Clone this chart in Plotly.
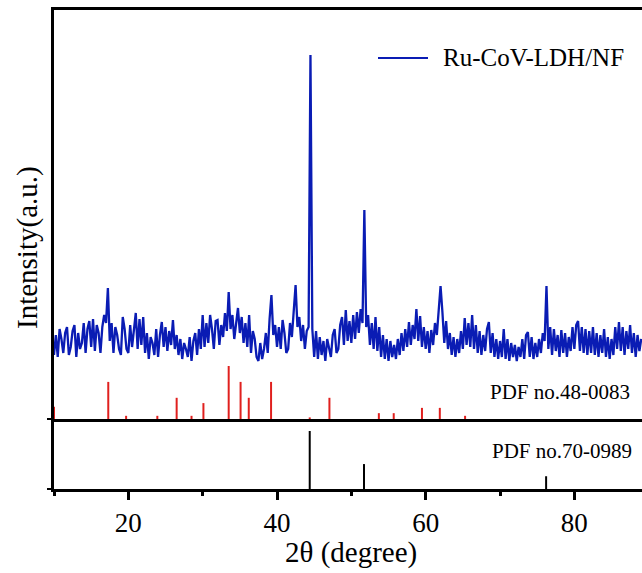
import plotly.graph_objects as go

# ---------------- data ----------------
TWO_THETA_START = 10.0
TWO_THETA_STEP = 0.25
INTENSITY = [
    64, 84, 62, 90, 80, 66, 86, 92, 64, 72, 88, 94, 62, 86, 70, 76, 96, 66, 90, 98,
    72, 100, 68, 94, 86, 66, 92, 104, 96, 131, 78, 96, 66, 92, 84, 70, 64, 102, 90, 70,
    66, 94, 72, 88, 106, 70, 100, 74, 102, 66, 86, 60, 82, 76, 64, 90, 62, 84, 97, 72,
    92, 68, 88, 74, 99, 70, 84, 64, 80, 60, 76, 70, 62, 82, 58, 78, 86, 64, 90, 70,
    104, 72, 96, 76, 104, 90, 70, 98, 99, 74, 94, 82, 106, 88, 127, 90, 104, 80, 98, 111,
    86, 102, 76, 96, 72, 104, 66, 88, 80, 62, 58, 76, 60, 70, 86, 66, 100, 124, 84, 94,
    72, 92, 70, 99, 86, 66, 70, 96, 82, 110, 134, 92, 102, 78, 94, 70, 88, 92, 364, 90,
    62, 88, 60, 82, 64, 78, 58, 80, 72, 62, 84, 90, 66, 70, 94, 102, 74, 109, 78, 98,
    76, 104, 80, 107, 86, 110, 96, 209, 92, 104, 74, 96, 70, 102, 68, 92, 62, 84, 60, 80,
    58, 78, 62, 74, 60, 80, 64, 86, 68, 90, 72, 97, 74, 94, 80, 110, 78, 103, 72, 92,
    70, 88, 66, 89, 74, 96, 84, 108, 133, 107, 76, 98, 70, 86, 64, 82, 62, 80, 66, 88,
    70, 101, 74, 96, 72, 104, 70, 94, 66, 88, 64, 84, 68, 90, 97, 66, 86, 62, 80, 60,
    78, 62, 90, 60, 80, 58, 76, 62, 74, 58, 72, 62, 80, 60, 84, 87, 62, 82, 60, 76,
    62, 80, 66, 86, 78, 133, 70, 92, 64, 90, 68, 84, 62, 89, 66, 86, 62, 82, 68, 92,
    70, 94, 98, 68, 92, 66, 90, 64, 88, 66, 92, 64, 86, 62, 84, 66, 90, 62, 82, 60,
    80, 64, 92, 70, 97, 68, 92, 64, 88, 70, 94, 66, 86, 62, 84, 68, 80,
]
PDF48_POS = [10.0, 17.3, 19.7, 23.9, 26.5, 28.5, 30.1, 33.5, 35.1, 36.2, 39.2, 44.4,
             47.05, 53.7, 55.7, 59.5, 61.9, 65.3]
PDF48_INT = [23, 70, 6, 6, 40, 6, 30, 100, 70, 40, 70, 3, 40, 11, 11, 21, 21, 6]
PDF70_POS = [44.4, 51.7, 76.2]
PDF70_INT = [100, 43, 22]
XTICKS = [20, 40, 60, 80]
XMINOR = [10, 30, 50, 70]
SERIES_NAME = "Ru-CoV-LDH/NF"
PDF48_LABEL = "PDF no.48-0083"
PDF70_LABEL = "PDF no.70-0989"

# ---------------- build ----------------
two_theta = [TWO_THETA_START + i * TWO_THETA_STEP for i in range(len(INTENSITY))]


def sticks(pos, hts):
    xs, ys = [], []
    for p, h in zip(pos, hts):
        xs += [p, p, None]
        ys += [0, h, None]
    return xs, ys


rx, ry = sticks(PDF48_POS, PDF48_INT)
kx, ky = sticks(PDF70_POS, PDF70_INT)

FONT = "Liberation Serif"
BLUE = "#0a1cb4"
RED = "#e0201e"

fig = go.Figure()
fig.add_trace(go.Scatter(x=rx, y=ry, mode="lines", xaxis="x2", yaxis="y3",
                         line=dict(color=RED, width=2), showlegend=False,
                         name=PDF48_LABEL))
fig.add_trace(go.Scatter(x=kx, y=ky, mode="lines", xaxis="x", yaxis="y",
                         line=dict(color="black", width=2), showlegend=False,
                         name=PDF70_LABEL))
fig.add_trace(go.Scatter(x=two_theta, y=INTENSITY, mode="lines", xaxis="x2", yaxis="y2",
                         line=dict(color=BLUE, width=2.3), showlegend=False,
                         name=SERIES_NAME))

W, H = 642, 573
ML, MR, MT, MB = 54, 0, 10, 84
PW, PH = W - ML - MR, H - MT - MB
split = 70 / PH
XR = [10, 89.1]


def px(xp):
    return (xp - ML) / PW


def py(yp):
    return (H - MB - yp) / PH


fig.update_layout(
    width=W, height=H,
    margin=dict(l=ML, r=MR, t=MT, b=MB),
    paper_bgcolor="white", plot_bgcolor="white",
    font=dict(family=FONT, color="black", size=24),
    showlegend=False,
    xaxis=dict(domain=[0, 1], anchor="y", range=XR, showgrid=False, zeroline=False,
               showline=True, linecolor="black", linewidth=3,
               ticks="outside", ticklen=8, tickwidth=3, tickcolor="black",
               tickvals=XTICKS, tickfont=dict(size=27, family=FONT),
               minor=dict(tickvals=XMINOR, ticks="outside", ticklen=4, tickwidth=3,
                          tickcolor="black", showgrid=False)),
    xaxis2=dict(domain=[0, 1], anchor="y2", range=XR, matches="x", showgrid=False,
                zeroline=False, showline=True, mirror=True, linecolor="black",
                linewidth=3, ticks="", showticklabels=False),
    yaxis=dict(domain=[0, split], anchor="x", range=[0, 120.7], showgrid=False,
               zeroline=False, showline=True, linecolor="black", linewidth=3,
               ticks="outside", ticklen=4, tickwidth=2, tickcolor="black",
               tickvals=[0], showticklabels=False, layer="below traces"),
    yaxis2=dict(domain=[split, 1], anchor="x2", range=[0, 409], showgrid=False,
                zeroline=False, showline=True, linecolor="black", linewidth=3,
                ticks="outside", ticklen=4, tickwidth=2, tickcolor="black",
                tickvals=[0], showticklabels=False, layer="below traces"),
    yaxis3=dict(overlaying="y2", anchor="x2", range=[0, 409 / 53 * 100], visible=False),
)

# manual legend
fig.add_shape(type="line", xref="paper", yref="paper",
              x0=px(378), x1=px(428), y0=py(58), y1=py(58),
              line=dict(color=BLUE, width=2))
fig.add_annotation(xref="paper", yref="paper", x=px(441), y=py(58), text=SERIES_NAME,
                   showarrow=False, xanchor="left", yanchor="middle",
                   font=dict(size=25, family=FONT))
fig.add_annotation(xref="paper", yref="paper", x=px(632), y=py(392), text=PDF48_LABEL,
                   showarrow=False, xanchor="right", yanchor="middle",
                   font=dict(size=21, family=FONT))
fig.add_annotation(xref="paper", yref="paper", x=px(634), y=py(451), text=PDF70_LABEL,
                   showarrow=False, xanchor="right", yanchor="middle",
                   font=dict(size=21, family=FONT))
fig.add_annotation(xref="paper", yref="paper", x=px(351), y=py(552), text="2θ (degree)",
                   showarrow=False, xanchor="center", yanchor="middle",
                   font=dict(size=29, family=FONT))
fig.add_annotation(xref="paper", yref="paper", x=px(27), y=py(248), text="Intensity(a.u.)",
                   showarrow=False, xanchor="center", yanchor="middle", textangle=-90,
                   font=dict(size=29, family=FONT))

fig.write_html("out.html")
